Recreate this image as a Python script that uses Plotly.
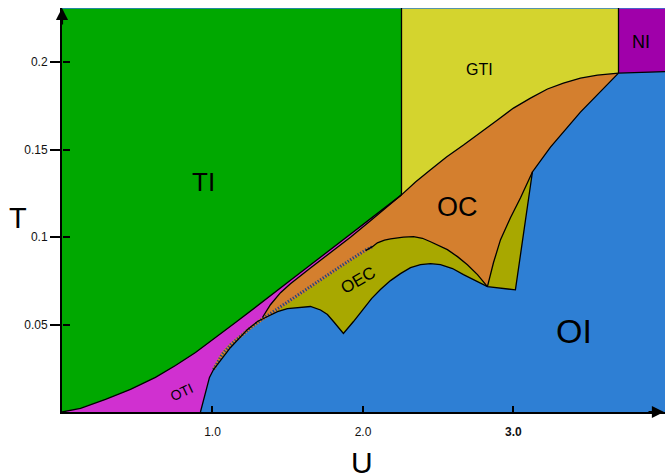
import plotly.graph_objects as go

# ---------------- data (U, T) ----------------
U_MAX = 4.007
T_MAX = 0.2309
T_TOP = 0.2304

# TI lower boundary (TI/OTI, then TI/OC)
ti_u = [0.000, 0.123, 0.289, 0.455, 0.621, 0.754, 0.887, 1.020, 1.153, 1.585, 1.917, 2.256]
ti_t = [0.0000, 0.0021, 0.0072, 0.0129, 0.0198, 0.0266, 0.0340, 0.0426, 0.0511, 0.0797, 0.1014, 0.1241]

# OC / GTI boundary
gti_u = [2.256, 2.349, 2.449, 2.555, 2.668, 2.781, 2.894, 3.000, 3.113, 3.226, 3.332, 3.445, 3.558, 3.698]
gti_t = [0.1241, 0.1315, 0.1384, 0.1458, 0.1526, 0.1600, 0.1669, 0.1737, 0.1794, 0.1846, 0.1880, 0.1908, 0.1925, 0.1937]

# NI lower edge
ni_u = [3.698, 4.007]
ni_t = [0.1937, 0.1945]

# OI upper boundary (left to right, to the OEC right lobe)
oi_u = [0.920, 0.940, 0.960, 0.980, 1.007, 1.053, 1.120, 1.233, 1.299, 1.366, 1.432, 1.498, 1.585, 1.651,
        1.718, 1.764, 1.804, 1.837, 1.870, 1.937, 2.003, 2.057, 2.116, 2.183, 2.249, 2.316, 2.382,
        2.449, 2.515, 2.595, 2.668, 2.747, 2.827]
oi_t = [0.0000, 0.0072, 0.0141, 0.0198, 0.0243, 0.0295, 0.0369, 0.0472, 0.0517, 0.0546, 0.0574, 0.0591, 0.0600, 0.0603,
        0.0583, 0.0557, 0.0517, 0.0483, 0.0449, 0.0517, 0.0586, 0.0648, 0.0700, 0.0751, 0.0791, 0.0825, 0.0842,
        0.0848, 0.0842, 0.0820, 0.0785, 0.0751, 0.0717]

# OEC right lobe: bottom + right side, then OI/OC edge up to NI
oir_u = [2.827, 3.013, 3.126, 3.246, 3.445, 3.698]
oir_t = [0.0717, 0.0698, 0.1372, 0.1514, 0.1714, 0.1937]

# OEC right lobe, left edge (OEC/OC)
oecr_u = [2.827, 2.867, 2.914, 2.980, 3.047, 3.126]
oecr_t = [0.0717, 0.0853, 0.0985, 0.1110, 0.1224, 0.1372]

# hatched strip (lower edge, upper edge, centre)
hb_u = [1.007, 1.066, 1.120, 1.186, 1.252, 1.332, 1.419, 1.518, 1.651, 1.784, 1.917, 2.017, 2.063]
hb_t = [0.0243, 0.0323, 0.0375, 0.0426, 0.0472, 0.0523, 0.0574, 0.0631, 0.0705, 0.0785, 0.0865, 0.0922, 0.0945]
ht_t = [0.0243, 0.0340, 0.0392, 0.0443, 0.0489, 0.0540, 0.0591, 0.0648, 0.0722, 0.0802, 0.0875, 0.0928, 0.0945]
hc_t = [0.0243, 0.0332, 0.0384, 0.0435, 0.0481, 0.0532, 0.0583, 0.0640, 0.0714, 0.0794, 0.0870, 0.0925, 0.0945]

# OEC (left) upper edge, continuing from the hatched strip
oect_u = [2.063, 2.096, 2.143, 2.183, 2.229, 2.269, 2.336, 2.395, 2.449, 2.508, 2.561, 2.628, 2.694, 2.761, 2.827]
oect_t = [0.0945, 0.0967, 0.0982, 0.0990, 0.0996, 0.0999, 0.1002, 0.0993, 0.0973, 0.0950, 0.0928, 0.0888, 0.0842, 0.0785, 0.0717]

# OTI lower edge (OTI/OC)
oti_u = [1.332, 1.385, 1.452, 1.518, 1.651, 1.784, 1.917, 2.050, 2.183, 2.256]
oti_t = [0.0540, 0.0613, 0.0682, 0.0733, 0.0823, 0.0911, 0.0999, 0.1093, 0.1186, 0.1241]

# labels
lab_text = ["TI", "GTI", "NI", "OC", "OEC", "OI", "OTI"]
lab_u = [0.937, 2.777, 3.847, 2.625, 1.967, 3.402, 0.797]
lab_t = [0.1314, 0.1960, 0.2114, 0.1171, 0.0749, 0.0463, 0.0114]
lab_size = [26, 16, 18, 27, 17, 34, 14]
lab_angle = [0, 0, 0, 0, -30, 0, -25]

xtick_vals = [1.0, 2.0, 3.0]
xtick_text = ["1.0", "2.0", "<b>3.0</b>"]
ytick_vals = [0.05, 0.1, 0.15, 0.2]
ytick_text = ["0.05", "0.1", "0.15", "0.2"]

C_TI = "#00A800"
C_GTI = "#D4D42E"
C_NI = "#A000AA"
C_OI = "#2E7FD4"
C_OC = "#D47F2E"
C_OEC = "#A8A800"
C_OTI = "#D030D0"
C_HATCH = "#25457E"

FONT = "Liberation Sans, Arial, sans-serif"

fig = go.Figure()


def poly(us, ts, color):
    fig.add_trace(go.Scatter(x=us, y=ts, mode="lines", line=dict(width=0, color=color),
                             fill="toself", fillcolor=color, hoverinfo="skip", showlegend=False))


def rev(a):
    return list(a)[::-1]


# OC (orange) underlying everything below TI / GTI
poly([0.0] + ti_u + gti_u[1:] + [3.698, 0.0],
     [0.0] + ti_t + gti_t[1:] + [0.0, 0.0], C_OC)

# OEC left
poly(hb_u + oect_u[1:] + [2.827, 1.007],
     hb_t + oect_t[1:] + [0.0, 0.0], C_OEC)
# OEC right lobe
poly(oecr_u + [3.013], oecr_t + [0.0698], C_OEC)

# OI (blue)
poly(oi_u + oir_u[1:] + [4.1, 4.1],
     oi_t + oir_t[1:] + [0.1945, -0.01], C_OI)

# OTI (magenta)
poly(ti_u + rev(oti_u)[1:] + rev(hb_u)[1:-1] + rev(oi_u[:5]),
     ti_t + rev(oti_t)[1:] + rev(ht_t)[1:-1] + rev(oi_t[:5]), C_OTI)

# GTI
poly(gti_u + [3.698, 2.256], gti_t + [T_TOP, T_TOP], C_GTI)
# TI
poly(ti_u + [2.256, 0.0], ti_t + [T_TOP, T_TOP], C_TI)
# NI
poly(ni_u + [4.1, 3.698], ni_t + [T_TOP, T_TOP], C_NI)

# hatched strip: orange band with dark-blue hatching
fig.add_trace(go.Scatter(x=hb_u, y=hc_t, mode="lines", line=dict(color=C_OC, width=3),
                         hoverinfo="skip", showlegend=False))
fig.add_trace(go.Scatter(x=hb_u, y=hc_t, mode="lines",
                         line=dict(color=C_HATCH, width=3, dash="1.3px,1.7px"),
                         hoverinfo="skip", showlegend=False))


def line(us, ts, w=1.3):
    fig.add_trace(go.Scatter(x=us, y=ts, mode="lines", line=dict(color="black", width=w),
                             hoverinfo="skip", showlegend=False))


line(ti_u, ti_t)
line([2.256, 2.256], [0.1241, T_MAX])
line(gti_u, gti_t)
line([3.698, 3.698], [0.1937, T_MAX])
line(ni_u, ni_t)
line(oi_u + oir_u[1:], oi_t + oir_t[1:])
line(oecr_u, oecr_t)
line(hb_u[-2:] + oect_u[1:], hb_t[-2:] + oect_t[1:])
line(oti_u, oti_t)

# labels
for s, u, t, sz, ang in zip(lab_text, lab_u, lab_t, lab_size, lab_angle):
    fig.add_annotation(x=u, y=t, text=s, showarrow=False, textangle=ang,
                       font=dict(family=FONT, size=sz, color="black"))

# axis titles
fig.add_annotation(xref="paper", yref="paper", x=0.497, y=-0.124, text="U", showarrow=False,
                   font=dict(family=FONT, size=30, color="black"), xanchor="center", yanchor="middle")
fig.add_annotation(xref="paper", yref="paper", x=-0.073, y=0.48, text="T", showarrow=False,
                   font=dict(family=FONT, size=29, color="black"), xanchor="center", yanchor="middle")

# axis arrows
fig.add_annotation(xref="x", yref="paper", x=0, y=1.0, ax=0, ay=18, text="", showarrow=True,
                   arrowhead=2, arrowsize=1.1, arrowwidth=2.2, arrowcolor="black")
fig.add_annotation(xref="paper", yref="y", x=1.0, y=0, ax=-18, ay=0, text="", showarrow=True,
                   arrowhead=2, arrowsize=1.1, arrowwidth=2.2, arrowcolor="black")

# invisible trace for the overlay axes
fig.add_trace(go.Scatter(x=[0], y=[0], xaxis="x2", yaxis="y2", mode="markers",
                         marker=dict(opacity=0), hoverinfo="skip", showlegend=False))

fig.update_layout(
    width=665, height=473,
    margin=dict(l=62, r=0, t=8, b=61),
    paper_bgcolor="white",
    plot_bgcolor=C_OI,
    showlegend=False,
    xaxis=dict(range=[0, U_MAX], showgrid=False, zeroline=False, showline=True,
               linecolor="black", linewidth=2, ticks="inside", ticklen=6, tickwidth=1.5,
               tickcolor="black", tickvals=xtick_vals, ticktext=xtick_text,
               tickfont=dict(family=FONT, size=12, color="#111"), ticklabelstandoff=8,
               layer="above traces"),
    yaxis=dict(range=[0, T_MAX], showgrid=False, zeroline=False, showline=True,
               linecolor="black", linewidth=2, ticks="outside", ticklen=10, tickwidth=1.5,
               tickcolor="black", tickvals=ytick_vals, ticktext=ytick_text,
               tickfont=dict(family=FONT, size=12, color="#111"), layer="above traces"),
    xaxis2=dict(overlaying="x", range=[0, U_MAX], showgrid=False, zeroline=False,
                showticklabels=False, ticks="", visible=False),
    yaxis2=dict(overlaying="y", range=[0, T_MAX], showgrid=False, zeroline=False,
                showline=False, ticks="inside", ticklen=7, tickwidth=1.5, tickcolor="black",
                tickvals=ytick_vals, showticklabels=False, side="left", anchor="free",
                position=0, layer="above traces"),
)

fig.write_html("out.html")
